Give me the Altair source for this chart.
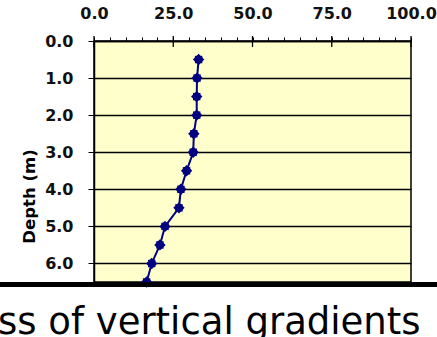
import altair as alt
import pandas as pd

# Depth profile (m) and measured value along the profile
depth = [0.5, 1.0, 1.5, 2.0, 2.5, 3.0, 3.5, 4.0, 4.5, 5.0, 5.5, 6.0, 6.5]
value = [33.0, 32.5, 32.4, 32.4, 31.5, 31.3, 29.2, 27.4, 26.8, 22.4, 20.8, 18.2, 16.6]

x_ticks = [0, 5, 10, 15, 20, 25, 30, 35, 40, 45, 50, 55, 60, 65, 70, 75, 80, 85, 90, 95, 100]
x_major = [0, 25, 50, 75, 100]
y_ticks = [0, 1, 2, 3, 4, 5, 6]
caption = ["ss of vertical gradients"]

NAVY = "#000080"
FONT = "DejaVu Sans"
W, H = 317, 241

profile = pd.DataFrame({"depth": depth, "value": value})
major = pd.DataFrame({"value": x_major})
cap = pd.DataFrame({"text": caption})

x_scale = alt.Scale(domain=[0, 100], nice=False, zero=False)
y_scale = alt.Scale(domain=[0, 6.5], reverse=True, nice=False, zero=False)

x_axis = alt.Axis(
    orient="top",
    values=x_ticks,
    labelExpr="datum.value % 25 == 0 ? format(datum.value, '.1f') : ''",
    labelOverlap=False,
    labelFlush=False,
    tickSize=4,
    tickColor="black",
    tickWidth=1,
    labelPadding=16,
    labelFont=FONT,
    labelFontSize=16,
    labelFontWeight="bold",
    labelColor="#111111",
    domainColor="black",
    domainWidth=1.5,
    grid=False,
    title=None,
)
y_axis = alt.Axis(
    values=y_ticks,
    format=".1f",
    labelFlush=False,
    labelOverlap=False,
    tickSize=6,
    tickColor="black",
    labelPadding=15,
    labelFont=FONT,
    labelFontSize=16,
    labelFontWeight="bold",
    labelColor="#111111",
    domainColor="black",
    domainWidth=1.5,
    grid=True,
    gridColor="black",
    gridWidth=1.3,
    title="Depth (m)",
    titleFont=FONT,
    titleFontSize=16.5,
    titleFontWeight="bold",
    titleColor="black",
    titleAngle=270,
    titleAlign="center",
    titleBaseline="middle",
    titleX=-64.5,
    titleY=155,
)

x_enc = alt.X("value:Q", scale=x_scale, axis=x_axis)
y_enc = alt.Y("depth:Q", scale=y_scale, axis=y_axis)

line = alt.Chart(profile).mark_line(color=NAVY, strokeWidth=2).encode(x=x_enc, y=y_enc, order="depth:Q")
diamonds = alt.Chart(profile).mark_point(shape="diamond", filled=True, color=NAVY, size=130, opacity=1).encode(
    x=x_enc, y=y_enc
)
squares = alt.Chart(profile).mark_point(shape="square", filled=True, color=NAVY, size=55, opacity=1).encode(
    x=x_enc, y=y_enc
)

# Major ticks on the top axis cross the axis line
major_ticks = alt.Chart(major).mark_rule(color="black", strokeWidth=1.3).encode(
    x=x_enc,
    y=alt.value(-5),
    y2=alt.value(6),
)

# Heavy rule under the plot
base_rule = alt.Chart(major).mark_rule(color="black", strokeWidth=5).encode(
    x=alt.value(-94), x2=alt.value(343), y=alt.value(243.5)
)

caption_text = alt.Chart(cap).mark_text(
    font=FONT, fontSize=37, color="black", align="left", baseline="alphabetic"
).encode(text="text:N", x=alt.value(-96), y=alt.value(292.5))

chart = (
    alt.layer(line, diamonds, squares, major_ticks, base_rule, caption_text)
    .properties(
        width=W,
        height=H,
        autosize=alt.AutoSizeParams(type="none"),
        padding={"left": 94, "top": 41, "right": 26, "bottom": 55},
        background="white",
    )
    .configure_view(fill="#FFFFCC", stroke="black", strokeWidth=1.5)
)

chart.save("out.html", embed_options={"renderer": "svg", "actions": False})
